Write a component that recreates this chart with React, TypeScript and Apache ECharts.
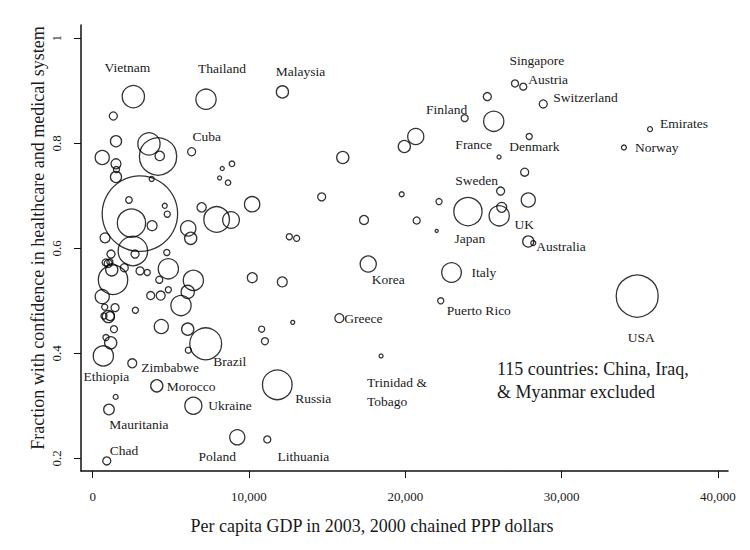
import React, { useEffect, useRef } from "react";
import * as echarts from "echarts";

// Per capita GDP 2003 (2000 chained PPP $)
const gdp = [
  2600, 7250, 12140, 1320, 1490, 3600, 4180, 4290, 610, 1490,
  1520, 1490, 3775, 6330, 8290, 8910, 8120, 8660, 3020, 2480,
  2320, 3800, 4610, 4770, 6970, 7930, 8850, 10200, 6110, 6270,
  12580, 13050, 790, 2570, 2710, 1170, 830, 990, 1100, 1220,
  2020, 3030, 3490, 4740, 4840, 4260, 6440, 1300, 610, 1430,
  770, 1000, 1110, 720, 2730, 3710, 4350, 4840, 6080, 5650,
  1360, 4390, 6080, 850, 1150, 680, 6120, 7230, 10210, 12130,
  10810, 11020, 12800, 2530, 4100, 1470, 1040, 6440, 11810, 9250,
  11170, 900, 25250, 23800, 25660, 20670, 19940, 16000, 26000, 14650,
  19770, 22160, 24010, 26010, 26170, 26100, 27870, 27640, 17360, 20730,
  22010, 17630, 22960, 22270, 15780, 18450, 27020, 27550, 28830, 27930,
  35660, 33990, 27870, 28190, 34840,
];

// Fraction with confidence in healthcare and medical system
const conf = [
  0.889, 0.884, 0.898, 0.852, 0.804, 0.799, 0.775, 0.776, 0.773, 0.761,
  0.750, 0.736, 0.732, 0.784, 0.752, 0.761, 0.734, 0.725, 0.666, 0.648,
  0.692, 0.643, 0.681, 0.665, 0.678, 0.655, 0.654, 0.684, 0.638, 0.619,
  0.622, 0.619, 0.620, 0.595, 0.589, 0.589, 0.573, 0.571, 0.574, 0.559,
  0.563, 0.557, 0.554, 0.592, 0.561, 0.540, 0.539, 0.540, 0.508, 0.487,
  0.488, 0.470, 0.471, 0.471, 0.482, 0.510, 0.510, 0.521, 0.517, 0.491,
  0.446, 0.451, 0.446, 0.430, 0.420, 0.395, 0.406, 0.418, 0.544, 0.536,
  0.446, 0.423, 0.459, 0.381, 0.338, 0.317, 0.293, 0.300, 0.340, 0.240,
  0.236, 0.195, 0.889, 0.848, 0.842, 0.813, 0.794, 0.773, 0.774, 0.698,
  0.703, 0.689, 0.670, 0.662, 0.678, 0.709, 0.692, 0.745, 0.654, 0.653,
  0.633, 0.570, 0.554, 0.500, 0.467, 0.395, 0.914, 0.908, 0.875, 0.813,
  0.827, 0.792, 0.613, 0.610, 0.509,
];

// Population (millions), bubble weight
const pop = [
  80, 66, 24, 10.5, 20, 80, 225, 14.5, 32, 16,
  6, 20, 4, 10.5, 2.6, 5, 2.6, 4.8, 920, 129,
  7, 16, 4, 6, 14, 106, 45, 38, 38, 24,
  6, 6, 16, 140, 10.5, 10.5, 8, 10.5, 6, 24,
  10.5, 10.5, 6, 6, 66, 8, 66, 140, 32, 10.5,
  6, 24, 13, 6, 6, 10.5, 13, 6, 28, 66,
  8, 32, 24, 6, 24, 66, 6, 164, 16, 16,
  6, 8, 2.6, 13, 24, 4, 18, 47, 142, 37,
  8, 10.5, 10.5, 8, 66, 42, 24, 24, 2.6, 10.5,
  4, 6, 129, 66, 16, 10.5, 32, 10.5, 13, 8,
  1.5, 42, 62, 6, 13, 2.6, 8, 8, 10.5, 6,
  4, 4, 20, 4, 285,
];

// Country labels (empty = unlabelled)
const names = [
  "Vietnam", "Thailand", "Malaysia", "", "", "", "", "", "", "",
  "", "", "", "Cuba", "", "", "", "", "", "",
  "", "", "", "", "", "", "", "", "", "",
  "", "", "", "", "", "", "", "", "", "",
  "", "", "", "", "", "", "", "", "", "",
  "", "", "", "", "", "", "", "", "", "",
  "", "", "", "", "", "Ethiopia", "", "Brazil", "", "",
  "", "", "", "Zimbabwe", "Morocco", "", "Mauritania", "Ukraine", "Russia", "Poland",
  "Lithuania", "Chad", "", "Finland", "France", "", "", "", "", "",
  "", "", "Japan", "UK", "", "Sweden", "", "", "", "",
  "", "Korea", "Italy", "Puerto Rico", "Greece", "Trinidad &\nTobago", "Singapore", "Austria", "Switzerland", "Denmark",
  "Emirates", "Norway", "Australia", "", "USA",
];

const xTicks = [0, 10000, 20000, 30000, 40000];
const yTicks = [0.2, 0.4, 0.6, 0.8, 1];

// label placement relative to the marker centre: [dx, dy, align]
const labelPlace: Record<string, [number, number, string]> = {
  Vietnam: [-6, -29, "center"],
  Thailand: [16, -31, "center"],
  Malaysia: [18, -20, "center"],
  Cuba: [15, -15, "center"],
  Singapore: [22, -23, "center"],
  Austria: [5, -7, "left"],
  Switzerland: [10, -6, "left"],
  Finland: [-18, -9, "center"],
  France: [-20, 23, "center"],
  Denmark: [-20, 10, "left"],
  Emirates: [10, -6, "left"],
  Norway: [11, 0, "left"],
  Sweden: [-24, -11, "center"],
  Japan: [2, 27, "center"],
  UK: [25, 9, "center"],
  Australia: [8, 5, "left"],
  Italy: [20, 0, "left"],
  "Puerto Rico": [6, 10, "left"],
  Korea: [20, 15, "center"],
  Greece: [5, 0, "left"],
  "Trinidad &\nTobago": [-14, 36, "left"],
  USA: [4, 41, "center"],
  Russia: [18, 14, "left"],
  Lithuania: [36, 17, "center"],
  Poland: [-20, 19, "center"],
  Chad: [3, -10, "left"],
  Mauritania: [30, 15, "center"],
  Ukraine: [15, 0, "left"],
  Morocco: [10, 1, "left"],
  Ethiopia: [3, 21, "center"],
  Zimbabwe: [9, 4, "left"],
  Brazil: [24, 18, "center"],
};

const FONT = "'Liberation Serif', 'Times New Roman', serif";
const INK = "#1a1a1a";

export default function App() {
  const ref = useRef<HTMLDivElement>(null);

  useEffect(() => {
    if (!ref.current) return;
    const chart = echarts.init(ref.current, undefined, { renderer: "svg" });

    const data = gdp.map((g, i) => ({ value: [g, conf[i], pop[i]], name: names[i] }));

    const baseGraphics: any[] = [
      {
        type: "text",
        x: 372,
        y: 526,
        style: {
          text: "Per capita GDP in 2003, 2000 chained PPP dollars",
          fill: INK,
          font: `18px ${FONT}`,
          align: "center",
          verticalAlign: "middle",
        },
      },
      {
        type: "text",
        x: 38,
        y: 238,
        rotation: Math.PI / 2,
        style: {
          text: "Fraction with confidence in healthcare and medical system",
          fill: INK,
          font: `18px ${FONT}`,
          align: "center",
          verticalAlign: "middle",
        },
      },
      {
        type: "text",
        x: 497,
        y: 380,
        style: {
          text: "115 countries: China, Iraq,\n& Myanmar excluded",
          fill: INK,
          font: `18px ${FONT}`,
          lineHeight: 23,
          align: "left",
          verticalAlign: "middle",
        },
      },
    ];

    chart.setOption({
      animation: false,
      backgroundColor: "#ffffff",
      grid: { left: 81, top: 25, width: 647, height: 446, containLabel: false },
      xAxis: {
        type: "value",
        min: -749,
        max: 40650,
        splitLine: { show: false },
        axisLine: { show: true, onZero: false, lineStyle: { color: "#111", width: 1.5 } },
        axisTick: { show: true, length: 7, customValues: xTicks, lineStyle: { color: "#111", width: 1 } },
        axisLabel: {
          customValues: xTicks,
          margin: 19,
          color: INK,
          fontFamily: FONT,
          fontSize: 13,
          formatter: (v: number) => v.toLocaleString("en-US"),
        },
      },
      yAxis: {
        type: "value",
        min: 0.1758,
        max: 1.0254,
        splitLine: { show: false },
        axisLine: { show: true, onZero: false, lineStyle: { color: "#111", width: 1.5 } },
        axisTick: { show: true, length: 7, customValues: yTicks, lineStyle: { color: "#111", width: 1 } },
        axisLabel: {
          customValues: yTicks,
          rotate: 90,
          margin: 18,
          color: INK,
          fontFamily: FONT,
          fontSize: 13,
          formatter: (v: number) => (Math.abs(v - 1) < 1e-9 ? "1" : v.toFixed(1)),
        },
      },
      graphic: baseGraphics,
      series: [
        {
          type: "scatter",
          data,
          symbol: "circle",
          symbolSize: (v: number[]) => 2 * 21 * Math.sqrt(v[2] / 285),
          itemStyle: { color: "rgba(0,0,0,0)", borderColor: "#000", borderWidth: 1.3 },
          emphasis: { disabled: true },
          label: { show: false },
          silent: true,
        },
      ],
    });

    // Country name labels, placed next to their markers via the chart's own scales
    const labelGraphics: any[] = [];
    gdp.forEach((g, i) => {
      const nm = names[i];
      if (!nm || !labelPlace[nm]) return;
      const [dx, dy, al] = labelPlace[nm];
      const p = chart.convertToPixel({ seriesIndex: 0 }, [g, conf[i]]) as number[];
      labelGraphics.push({
        type: "text",
        x: p[0] + dx,
        y: p[1] + dy,
        silent: true,
        style: {
          text: nm,
          fill: INK,
          font: `13.5px ${FONT}`,
          lineHeight: 19,
          align: al,
          verticalAlign: "middle",
        },
      });
    });
    chart.setOption({ graphic: [...baseGraphics, ...labelGraphics] });

    return () => chart.dispose();
  }, []);

  return (
    <div
      ref={ref}
      style={{ position: "absolute", left: 0, top: 0, width: 750, height: 550 }}
    />
  );
}
